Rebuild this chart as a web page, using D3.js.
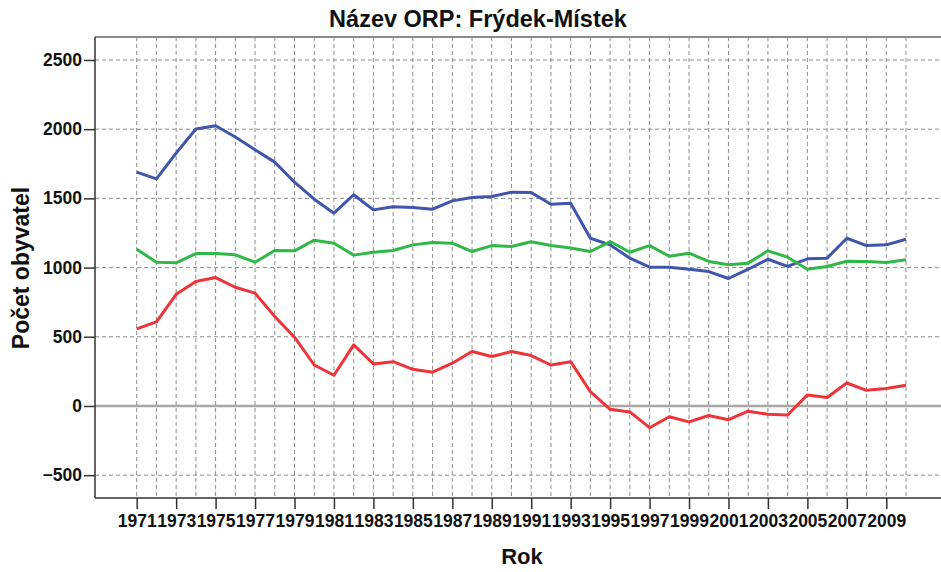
<!DOCTYPE html>
<html>
<head>
<meta charset="utf-8">
<script src="https://cdn.jsdelivr.net/npm/d3@7"></script>
<style>
  html, body { margin: 0; padding: 0; background: #fff; }
  svg { display: block; font-family: Arial, "Liberation Sans", sans-serif; }
</style>
</head>
<body>
<svg id="chart" width="941" height="572"></svg>
<script>
const title = "Název ORP: Frýdek-Místek";
const xLabel = "Rok";
const yLabel = "Počet obyvatel";

const years = d3.range(1971, 2011);
const yTicks = [-500, 0, 500, 1000, 1500, 2000, 2500];
const xTickYears = d3.range(1971, 2010, 2);

const blueValues = [1690, 1641, 1827, 2001, 2025, 1943, 1851, 1762, 1617, 1494,
                    1393, 1526, 1417, 1440, 1434, 1422, 1482, 1506, 1514, 1545,
                    1542, 1458, 1465, 1212, 1164, 1068, 1003, 1003, 988, 971,
                    921, 988, 1060, 1008, 1063, 1068, 1212, 1159, 1164, 1205];
const greenValues = [1133, 1039, 1034, 1101, 1101, 1092, 1039, 1123, 1121, 1198,
                     1176, 1090, 1111, 1123, 1164, 1181, 1176, 1116, 1159, 1152,
                     1186, 1159, 1142, 1116, 1188, 1111, 1159, 1082, 1104, 1044,
                     1020, 1032, 1121, 1075, 988, 1008, 1046, 1044, 1036, 1056];
const redValues = [557, 607, 807, 899, 928, 858, 815, 646, 497, 296,
                   222, 441, 304, 320, 265, 244, 309, 393, 357, 393,
                   364, 296, 320, 103, -24, -43, -157, -78, -115, -69,
                   -99, -38, -60, -65, 80, 61, 166, 113, 126, 150];

const seriesList = [
  { name: "blue", values: blueValues, color: "#3F55AE" },
  { name: "green", values: greenValues, color: "#2FB847" },
  { name: "red", values: redValues, color: "#EF3338" }
];

const svg = d3.select("#chart");
const plotLeft = 95, plotRight = 948, plotTop = 37, plotBottom = 498;

const x = d3.scaleLinear()
  .domain([1971, 2010])
  .range([136.7, 906]);
const y = d3.scaleLinear()
  .domain([-665, 2666])
  .range([plotBottom, plotTop]);

// gridlines
const grid = svg.append("g");
grid.selectAll("line.vg").data(years).join("line")
  .attr("class", "vg")
  .attr("x1", d => x(d)).attr("x2", d => x(d))
  .attr("y1", plotTop).attr("y2", plotBottom)
  .attr("stroke", "#8c8c8c").attr("stroke-width", 1)
  .attr("stroke-dasharray", "4,3");
grid.selectAll("line.hg").data(yTicks.filter(d => d !== 0)).join("line")
  .attr("class", "hg")
  .attr("x1", plotLeft).attr("x2", plotRight)
  .attr("y1", d => y(d)).attr("y2", d => y(d))
  .attr("stroke", "#8c8c8c").attr("stroke-width", 1)
  .attr("stroke-dasharray", "4,3");

// zero line
svg.append("line")
  .attr("x1", plotLeft).attr("x2", plotRight)
  .attr("y1", y(0)).attr("y2", y(0))
  .attr("stroke", "#a6a6a6").attr("stroke-width", 2.5);

// top frame
svg.append("line")
  .attr("x1", plotLeft).attr("x2", plotRight)
  .attr("y1", plotTop).attr("y2", plotTop)
  .attr("stroke", "#8a8a8a").attr("stroke-width", 2);

// lines
const line = d3.line()
  .x((d, i) => x(years[i]))
  .y(d => y(d));
svg.append("g").selectAll("path").data(seriesList).join("path")
  .attr("d", d => line(d.values))
  .attr("fill", "none")
  .attr("stroke", d => d.color)
  .attr("stroke-width", 3)
  .attr("stroke-linejoin", "round");

// axes
const yAxis = d3.axisLeft(y).tickValues(yTicks).tickSize(11).tickPadding(2).tickFormat(d3.format("d"));
const gy = svg.append("g").attr("transform", `translate(${plotLeft},0)`).call(yAxis);
gy.select(".domain").remove();
gy.append("line").attr("x1", 0).attr("x2", 0).attr("y1", plotTop).attr("y2", plotBottom)
  .attr("stroke", "#333").attr("stroke-width", 1.5);

const xAxis = d3.axisBottom(x).tickValues(xTickYears).tickSize(11).tickPadding(6).tickFormat(d3.format("d"));
const gx = svg.append("g").attr("transform", `translate(0,${plotBottom})`).call(xAxis);
gx.select(".domain").remove();
gx.append("line").attr("x1", plotLeft).attr("x2", plotRight).attr("y1", 0).attr("y2", 0)
  .attr("stroke", "#333").attr("stroke-width", 1.5);

[gx, gy].forEach(g => {
  g.selectAll(".tick line").attr("stroke", "#333").attr("stroke-width", 1.5);
  g.selectAll(".tick text")
    .attr("fill", "#111")
    .style("font-family", "Arial, 'Liberation Sans', sans-serif")
    .style("font-size", "17.5px")
    .style("font-weight", "bold");
});

// title and labels
svg.append("text")
  .attr("x", 478).attr("y", 27)
  .attr("text-anchor", "middle")
  .style("font-size", "23.5px").style("font-weight", "bold").attr("fill", "#111")
  .text(title);

svg.append("text")
  .attr("x", 522).attr("y", 564)
  .attr("text-anchor", "middle")
  .style("font-size", "22px").style("font-weight", "bold").attr("fill", "#111")
  .text(xLabel);

svg.append("text")
  .attr("transform", "translate(29,268) rotate(-90)")
  .attr("text-anchor", "middle")
  .style("font-size", "23px").style("font-weight", "bold").attr("fill", "#111")
  .text(yLabel);
</script>
</body>
</html>
